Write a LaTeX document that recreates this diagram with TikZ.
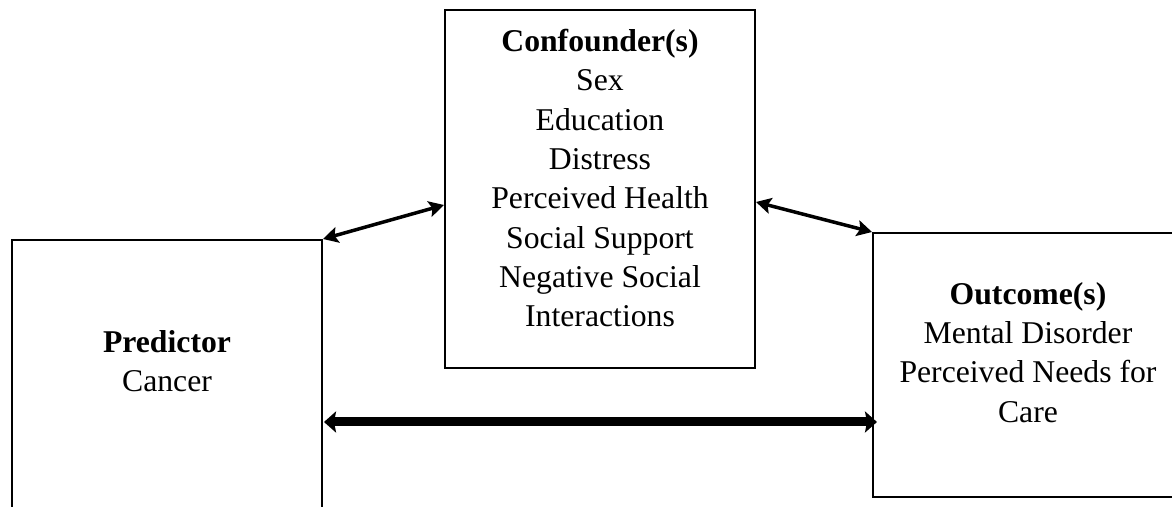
\documentclass[tikz,border=0pt]{standalone}
\usepackage{fontspec}
\setmainfont{Liberation Serif}
\usetikzlibrary{arrows.meta}
\tikzset{
  box/.style={draw, line width=2pt, inner sep=0pt},
  txt/.style={align=center, inner sep=0pt, anchor=north,
    font=\fontsize{31.7}{39.3}\selectfont},
  thin/.style={line width=3.5pt, {Stealth[length=15pt,width=16pt,inset=3pt]}-{Stealth[length=15pt,width=16pt,inset=3pt]}},
  thick/.style={line width=9pt, {Stealth[length=12pt,width=21pt,inset=2pt]}-{Stealth[length=12pt,width=21pt,inset=2pt]}}
}
\begin{document}
\begin{tikzpicture}[x=1pt,y=1pt]
\useasboundingbox (0,0) rectangle (1172,506);
\clip (0,0) rectangle (1172,506);
\node[box, minimum width=310pt, minimum height=300pt] (pred) at (167,116) {};
\node[box, minimum width=310pt, minimum height=358pt] (conf) at (600,317) {};
\node[box, minimum width=317pt, minimum height=264pt] (out) at (1031.5,141) {};
\node[txt] (predtext) at (167,176) {\textbf{Predictor}\\Cancer};
\node[txt] (conftext) at (600,477) {\textbf{Confounder(s)}\\Sex\\Education\\Distress\\Perceived Health\\Social Support\\Negative Social\\Interactions};
\node[txt] (outtext) at (1028,224) {\textbf{Outcome(s)}\\Mental Disorder\\Perceived Needs for\\Care};
\coordinate (c1) at (conf.west |- 0,301);
\coordinate (c2) at (conf.east |- 0,304);
\coordinate (p1) at (pred.east |- 0,84);
\coordinate (o1) at (out.west |- 0,84);
\draw[thin] (pred.north east) -- (c1);
\draw[thin] (c2) -- (out.north west);
\draw[thick] ([xshift=1pt]p1) -- ([xshift=5pt]o1);
\end{tikzpicture}
\end{document}
